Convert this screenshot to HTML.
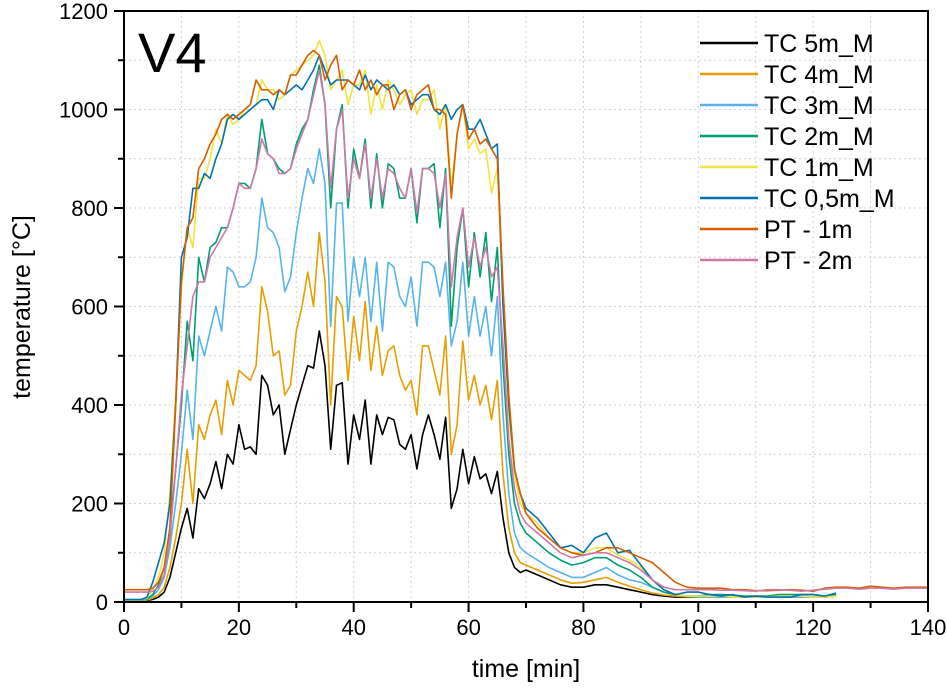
<!DOCTYPE html>
<html><head><meta charset="utf-8"><style>
html,body{margin:0;padding:0;background:#fff}
svg{display:block;font-family:"Liberation Sans",Arial,sans-serif}
</style></head><body>
<svg id="chart" width="947" height="689">
<g id="grid"></g>
<g id="series"></g>
<g id="axes"></g>
<text x="138" y="72" font-size="56">V4</text>
<text x="526" y="677" font-size="25" text-anchor="middle">time [min]</text>
<text transform="translate(30,307) rotate(-90)" font-size="25" text-anchor="middle">temperature [°C]</text>
<g id="legend"></g>
</svg>
<script>
const xTicks=[0,20,40,60,80,100,120,140];
const yTicks=[0,200,400,600,800,1000,1200];
const seriesNames=["TC 5m_M","TC 4m_M","TC 3m_M","TC 2m_M","TC 1m_M","TC 0,5m_M","PT - 1m","PT - 2m"];
const seriesColors=["#000000","#e69f00","#56b4e9","#009e73","#f0e442","#0072b2","#d55e00","#cc79a7"];
// time: 0..70 step 1, then 72..140 step 2
const times=[];for(let t=0;t<=70;t++)times.push(t);for(let t=72;t<=140;t+=2)times.push(t);
const N=null;
const tc5=[2,2,2,2,3,5,10,20,50,100,150,190,130,230,210,240,285,230,300,280,360,310,315,300,460,440,380,400,300,350,400,440,480,475,550,480,310,440,445,280,380,330,410,280,380,340,375,370,320,310,340,270,340,380,340,290,375,190,230,310,240,295,250,260,220,265,170,100,70,60,65,
55,45,35,30,30,35,35,30,25,20,15,12,10,10,10,10,10,10,10,10,10,10,10,10,10,10,12,N,N,N,N,N,N,N,N];
const tc4=[3,3,3,3,4,8,15,30,70,130,200,310,200,360,330,380,410,340,450,400,470,460,450,480,640,590,500,510,420,440,550,600,670,600,750,650,400,620,600,450,580,490,610,470,560,460,510,520,460,430,450,380,520,520,470,420,540,300,360,530,410,460,400,440,370,450,260,150,100,80,75,
65,55,45,38,40,45,50,40,32,25,18,14,12,11,10,10,10,10,10,10,10,10,10,10,10,10,12,N,N,N,N,N,N,N,N];
const tc3=[4,4,4,4,5,12,25,50,110,200,300,430,330,540,500,550,600,550,680,670,640,640,650,700,820,760,750,720,630,660,750,820,880,850,920,850,560,810,810,570,700,620,700,570,690,550,690,680,620,600,660,560,690,690,680,620,690,520,570,690,540,620,540,600,500,620,380,220,140,110,100,
85,70,60,50,50,60,70,55,45,40,30,20,15,12,10,10,10,10,10,10,10,10,10,10,10,10,12,N,N,N,N,N,N,N,N];
const tc2=[5,5,5,5,6,15,35,70,150,270,400,570,490,700,650,720,730,760,760,800,850,850,840,880,980,910,900,880,870,880,930,960,980,1040,1090,1010,800,960,1010,800,920,860,940,800,910,800,890,880,820,820,880,770,880,880,890,760,880,560,720,800,640,750,660,750,610,720,480,300,200,160,140,
120,100,85,75,80,90,90,75,65,50,30,20,15,12,12,15,15,14,12,12,12,15,15,15,15,12,15,N,N,N,N,N,N,N,N];
const tc1=[5,5,5,5,8,25,50,100,220,420,640,760,720,860,860,900,960,930,990,970,980,1000,1000,1010,1060,1040,1040,1020,1030,1070,1080,1090,1100,1110,1140,1110,1040,1060,1080,1010,1050,1050,1080,990,1050,1000,1060,1040,1010,1030,1040,990,1020,1020,1040,960,1010,840,950,1010,920,940,910,920,830,880,620,380,260,200,180,
160,130,110,100,100,110,110,95,85,70,45,25,15,12,12,12,12,10,10,10,10,12,12,12,10,10,12,N,N,N,N,N,N,N,N];
const tc05=[5,5,5,5,10,40,80,120,200,400,700,740,840,840,870,860,900,930,980,990,980,990,1000,1010,1020,1020,1000,1040,1030,1040,1050,1040,1060,1080,1110,1080,1050,1060,1060,1060,1050,1040,1070,1040,1060,1050,1040,1050,1030,1040,1010,1020,1030,1030,1000,990,1010,980,1000,1010,960,960,980,950,920,930,600,400,270,220,190,
170,140,110,115,100,130,140,100,105,75,45,25,15,20,20,15,12,15,10,12,10,10,10,15,15,12,18,N,N,N,N,N,N,N,N];
const pt1=[25,25,25,25,25,28,40,70,150,400,650,760,780,880,900,930,950,980,990,980,990,1000,1010,1060,1040,1040,1030,1040,1030,1070,1070,1090,1110,1120,1110,1060,1090,1110,1040,1060,1050,1080,1040,1060,1030,1050,1050,1000,1030,1040,1000,1030,1040,1050,1000,1000,990,820,950,1010,940,960,930,940,920,900,640,420,270,220,180,
150,130,110,100,95,100,110,110,100,90,80,60,40,30,28,28,28,25,25,23,23,24,25,24,22,28,30,30,28,32,30,28,30,30,30];
const pt2=[20,20,20,20,20,22,30,55,130,270,420,520,620,650,650,700,720,740,760,800,850,840,840,880,940,910,900,870,870,880,920,950,980,1030,1080,1010,840,960,1000,820,900,860,930,820,900,820,880,870,840,820,880,790,880,880,870,800,870,640,740,800,680,740,680,720,660,680,520,330,230,180,160,
140,120,100,90,95,100,100,90,80,65,45,30,25,25,25,25,24,24,23,22,25,25,24,22,24,26,28,28,26,28,28,26,28,28,28];
const allSeries=[tc5,tc4,tc3,tc2,tc1,tc05,pt1,pt2];

const X0=124,X1=928,Y0=602,Y1=11;
const xs=v=>X0+(v-0)/140*(X1-X0);
const ys=v=>Y0-(v-0)/1200*(Y0-Y1);
const NS="http://www.w3.org/2000/svg";
function mk(tag,parent,attrs){const e=document.createElementNS(NS,tag);for(const k in attrs)e.setAttribute(k,attrs[k]);parent.appendChild(e);return e;}
const grid=document.getElementById('grid'),axes=document.getElementById('axes'),ser=document.getElementById('series'),leg=document.getElementById('legend');
for(let v=10;v<140;v+=10){const l=mk('line',grid,{x1:xs(v),x2:xs(v),y1:Y1,y2:Y0,stroke:'#cfcfcf','stroke-dasharray':'2,3','stroke-width':1});

}
for(let v=100;v<1200;v+=100){const l=mk('line',grid,{x1:X0,x2:X1,y1:ys(v),y2:ys(v),stroke:'#cfcfcf','stroke-dasharray':'2,3','stroke-width':1});

}
allSeries.forEach((arr,i)=>{let d='';let pen=false;arr.forEach((v,j)=>{if(v===null||v===undefined){pen=false;return;}d+=(pen?'L':'M')+xs(times[j]).toFixed(1)+','+ys(v).toFixed(1);pen=true;});
const p=mk('path',ser,{d:d,fill:'none',stroke:seriesColors[i],'stroke-width':1.6,'stroke-linejoin':'round'});

});
const box=mk('rect',axes,{x:X0,y:Y1,width:X1-X0,height:Y0-Y1,fill:'none',stroke:'#000','stroke-width':2});


for(let v=0;v<=140;v+=10){const major=v%20===0;const t=mk('line',axes,{x1:xs(v),x2:xs(v),y1:Y0,y2:Y0+(major?10:6),stroke:'#000','stroke-width':2});

}
xTicks.forEach(v=>{const t=mk('text',axes,{x:xs(v),y:Y0+33,'font-size':22,'text-anchor':'middle'});t.textContent=v;

});
for(let v=0;v<=1200;v+=100){const major=v%200===0;const t=mk('line',axes,{x1:X0-(major?10:6),x2:X0,y1:ys(v),y2:ys(v),stroke:'#000','stroke-width':2});

}
yTicks.forEach(v=>{const t=mk('text',axes,{x:X0-16,y:ys(v)+8,'font-size':22,'text-anchor':'end'});t.textContent=v;

});
seriesNames.forEach((n,i)=>{const y=43+i*31;
const g=mk('g',leg,{});


mk('line',g,{x1:700,x2:758,y1:y,y2:y,stroke:seriesColors[i],'stroke-width':2.5});
const t=mk('text',g,{x:764,y:y+9,'font-size':25});t.textContent=n;});
</script>
</body></html>
